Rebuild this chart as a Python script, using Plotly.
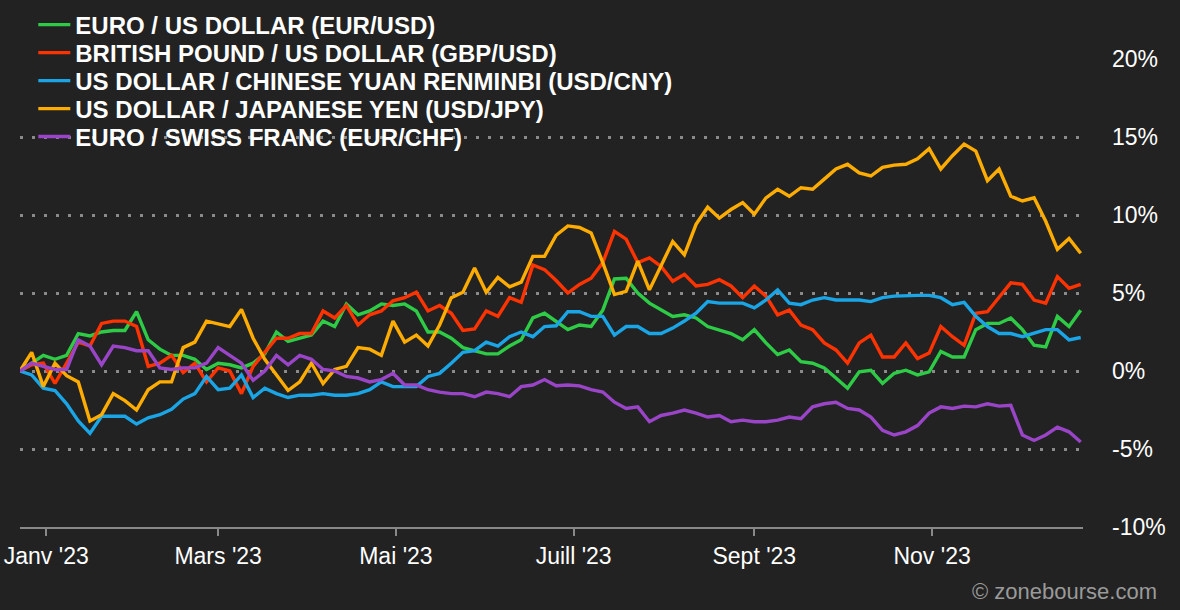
import pandas as pd
import plotly.graph_objects as go

# one reading every 4 days, 23 Dec 2022 -> 22 Dec 2023 (change since start, in %)
dates = pd.date_range("2022-12-23", "2023-12-22", freq="4D")

eur_usd = [0.0, 0.5, 1.0, 0.75, 1.0, 2.4, 2.25, 2.5, 2.6, 2.6,
           3.8, 2.0, 1.4, 1.0, 1.0, 0.75, 0.1, 0.5, 0.4, 0.2,
           0.5, 1.1, 2.5, 1.9, 2.1, 2.3, 3.2, 2.85, 4.3, 3.6,
           3.85, 4.3, 4.2, 4.3, 3.85, 2.5, 2.5, 2.1, 1.5, 1.3,
           1.1, 1.1, 1.6, 2.0, 3.4, 3.7, 3.2, 2.65, 2.95, 2.85,
           3.9, 5.9, 5.95, 5.0, 4.35, 3.9, 3.5, 3.6, 3.4, 2.85,
           2.65, 2.4, 2.0, 2.65, 1.8, 1.05, 1.35, 0.6, 0.5, 0.2,
           -0.45, -1.1, -0.05, 0.05, -0.8, -0.15, 0.05, -0.25, -0.05, 1.25,
           0.9, 0.9, 2.65, 3.05, 3.05, 3.4, 2.65, 1.65, 1.55, 3.5,
           2.85, 3.9]

gbp_usd = [0.0, 0.4, 0.5, -0.8, 0.5, 1.85, 1.6, 3.05, 3.2, 3.2,
           2.85, 0.3, 0.5, 1.0, -0.1, 0.5, -0.7, 0.2, 0.0, -1.45,
           0.3, 1.2, 2.1, 2.1, 2.4, 2.4, 3.85, 3.4, 4.2, 2.95,
           3.6, 3.85, 4.5, 4.7, 5.05, 3.85, 4.2, 3.7, 2.6, 2.7,
           3.85, 3.5, 4.7, 4.4, 6.8, 6.5, 5.8, 5.0, 5.55, 5.95,
           6.95, 8.95, 8.45, 6.95, 7.25, 6.7, 5.75, 6.2, 5.45, 5.55,
           5.85, 5.45, 4.7, 5.45, 4.8, 3.6, 3.9, 2.95, 2.65, 1.8,
           1.35, 0.5, 1.8, 2.3, 0.9, 0.9, 1.8, 0.8, 1.15, 2.85,
           2.2, 1.65, 3.7, 3.8, 4.7, 5.65, 5.55, 4.55, 4.35, 6.05,
           5.3, 5.55]

usd_cny = [0.0, -0.25, -1.1, -1.25, -2.1, -3.2, -4.0, -2.9, -2.9, -2.9,
           -3.4, -3.0, -2.8, -2.45, -1.8, -1.45, -0.35, -1.2, -1.1, -0.25,
           -1.7, -1.1, -1.45, -1.7, -1.55, -1.55, -1.45, -1.55, -1.55, -1.45,
           -1.2, -0.7, -1.0, -1.0, -1.0, -0.35, -0.15, 0.5, 1.2, 1.3,
           1.85, 1.6, 2.2, 2.5, 2.2, 2.85, 2.9, 3.8, 3.8, 3.5,
           3.5, 2.3, 2.85, 2.85, 2.4, 2.4, 2.75, 3.2, 3.7, 4.45,
           4.35, 4.35, 4.35, 4.05, 4.55, 5.2, 4.35, 4.25, 4.55, 4.7,
           4.55, 4.55, 4.55, 4.45, 4.7, 4.8, 4.85, 4.85, 4.85, 4.7,
           4.25, 4.4, 3.5, 2.85, 2.4, 2.4, 2.2, 2.4, 2.65, 2.65,
           2.0, 2.15]

usd_jpy = [0.0, 1.2, -1.0, 0.5, -0.3, -0.7, -3.2, -2.8, -1.45, -1.9,
           -2.5, -1.2, -0.7, -0.7, 1.5, 1.85, 3.2, 3.05, 2.85, 3.95,
           2.1, 0.75, -0.25, -1.25, -0.7, 0.5, -0.8, 0.1, 0.3, 1.5,
           1.4, 1.0, 3.2, 1.85, 2.3, 1.6, 2.95, 4.7, 5.05, 6.6,
           5.05, 6.0, 5.4, 5.7, 7.35, 7.35, 8.7, 9.3, 9.2, 8.85,
           6.95, 4.9, 5.1, 7.05, 5.2, 6.7, 8.3, 7.45, 9.4, 10.5,
           9.8, 10.35, 10.8, 10.05, 11.1, 11.65, 11.2, 11.75, 11.65, 12.3,
           12.95, 13.25, 12.7, 12.5, 13.05, 13.2, 13.25, 13.6, 14.25, 12.95,
           13.8, 14.55, 14.1, 12.2, 12.95, 11.2, 10.9, 11.1, 9.6, 7.8,
           8.5, 7.55]

eur_chf = [0.0, 0.5, 0.3, 0.1, 0.1, 2.0, 1.6, 0.4, 1.6, 1.5,
           1.3, 1.3, 0.2, 0.1, 0.2, 0.2, 0.5, 1.5, 1.0, 0.5,
           -0.6, 0.0, 1.0, 0.4, 1.0, 0.75, 0.1, 0.0, -0.35, -0.45,
           -0.7, -0.55, -0.15, -0.9, -0.9, -1.2, -1.35, -1.45, -1.45, -1.65,
           -1.35, -1.45, -1.65, -1.0, -0.9, -0.55, -0.95, -0.9, -0.95, -1.2,
           -1.35, -2.0, -2.4, -2.3, -3.25, -2.85, -2.7, -2.5, -2.7, -2.95,
           -2.85, -3.25, -3.15, -3.25, -3.25, -3.15, -2.95, -3.05, -2.3, -2.1,
           -2.0, -2.4, -2.5, -2.95, -3.8, -4.1, -3.9, -3.5, -2.7, -2.3,
           -2.4, -2.25, -2.3, -2.1, -2.25, -2.2, -4.1, -4.45, -4.1, -3.6,
           -3.9, -4.55]

names = ["EURO / US DOLLAR (EUR/USD)",
         "BRITISH POUND / US DOLLAR (GBP/USD)",
         "US DOLLAR / CHINESE YUAN RENMINBI (USD/CNY)",
         "US DOLLAR / JAPANESE YEN (USD/JPY)",
         "EURO / SWISS FRANC (EUR/CHF)"]
colors = ["#2ecc46", "#ff3300", "#1aa6e6", "#ffac00", "#9a45c8"]

tick_dates = ["2023-01-01", "2023-03-01", "2023-05-01", "2023-07-01", "2023-09-01", "2023-11-01"]
tick_text = ["Janv '23", "Mars '23", "Mai '23", "Juill '23", "Sept '23", "Nov '23"]
pct_vals = [-10, -5, 0, 5, 10, 15, 20]
pct_text = ["-10%", "-5%", "0%", "5%", "10%", "15%", "20%"]

font = "Liberation Sans, Arial, sans-serif"
bg = "#222222"

fig = go.Figure()
series = [eur_usd, gbp_usd, usd_cny, usd_jpy, eur_chf]
for n, values in enumerate(series):
    # one small legend per pair so the rows can sit as tight as the original
    legend_id = "legend" if n == 0 else "legend" + str(n + 1)
    fig.add_trace(go.Scatter(x=dates, y=values, name=names[n], mode="lines",
                             line=dict(color=colors[n], width=3.4), legend=legend_id))
    fig.update_layout({legend_id: dict(x=0.0125, y=1.0726 - n * 0.0598, xanchor="left", yanchor="middle",
                                       bgcolor="rgba(0,0,0,0)", itemwidth=32,
                                       font=dict(family=font, size=24, color="white", weight="bold"))})

fig.update_xaxes(type="date", range=["2022-12-23", "2023-12-22 19:00"],
                 tickvals=tick_dates, ticktext=tick_text,
                 showgrid=False, zeroline=False, automargin=False,
                 showline=True, linecolor="#888888", linewidth=2,
                 ticks="outside", ticklen=7, tickwidth=2, tickcolor="#888888",
                 tickfont=dict(family=font, size=23, color="white"))

fig.update_yaxes(side="right", range=[-10, 20], tickvals=pct_vals, ticktext=pct_text,
                 showgrid=True, gridcolor="#8a8a8a", gridwidth=2.5, griddash="3px,9px",
                 zeroline=False, showline=False, ticks="", ticklabelstandoff=28, automargin=False,
                 tickfont=dict(family=font, size=23, color="white"))

fig.add_annotation(text="© zonebourse.com", xref="paper", yref="paper",
                   x=1.0715, y=-0.137, xanchor="right", yanchor="middle", showarrow=False,
                   font=dict(family=font, size=22, color="#9a9a9a"))

fig.update_layout(width=1180, height=610, paper_bgcolor=bg, plot_bgcolor=bg,
                  margin=dict(l=20, r=97, t=59, b=83, autoexpand=False),
                  showlegend=True, hovermode="x unified")

# the page keeps the browser's default body margin otherwise
fig.write_html("out.html", config={"displayModeBar": False},
               post_script="document.body.style.margin = '0';")
